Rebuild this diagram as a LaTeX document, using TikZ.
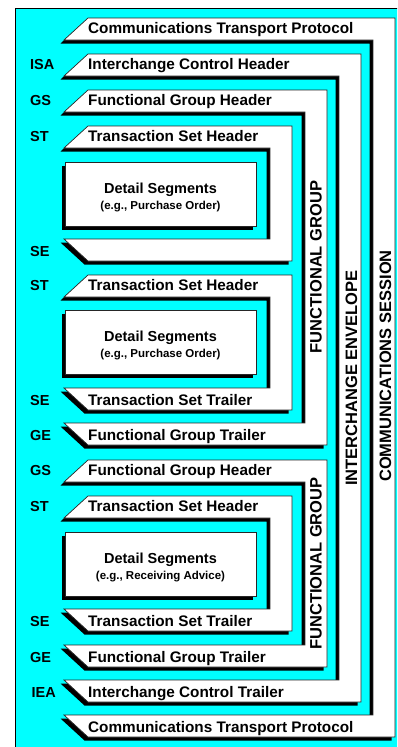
\documentclass[tikz,border=0pt]{standalone}
\usepackage{fontspec}
\setmainfont{Liberation Sans}[BoldFont={Liberation Sans Bold}]
\definecolor{envcyan}{RGB}{0,255,255}

\begin{document}
\begin{tikzpicture}[x=1pt, y=-1pt,
    envbox/.style={draw=black!85, line width=0.7pt, fill=white,
        preaction={fill=black, transform canvas={xshift=-3.5pt, yshift=-3.5pt}}},
    bartext/.style={anchor=base west, inner sep=0pt, font=\bfseries\fontsize{15.3}{18}\selectfont},
    segtag/.style={anchor=base west, inner sep=0pt, font=\bfseries\fontsize{14.5}{17}\selectfont},
    sidetext/.style={rotate=90, inner sep=0pt, font=\bfseries\fontsize{16.5}{19}\selectfont},
    segtext/.style={anchor=base, inner sep=0pt, font=\bfseries\fontsize{14.5}{17}\selectfont},
    exampletext/.style={anchor=base, inner sep=0pt, font=\bfseries\fontsize{11.5}{14}\selectfont}]

    % constants
    \def\slantl{64}
    \def\slantr{88}
    \def\barh{22}
    \def\segl{65}
    \def\segr{256}

    \useasboundingbox (0,0) rectangle (397,747);
    \clip (0,0) rectangle (397,747);
    \fill [white] (0,0) rectangle (397,747);
    \draw [line width=1pt, fill=envcyan] (15.5,8.5) rectangle (430,770);

    % envelopes: top / bottom / right edge
    \foreach \ty/\by/\rx in {18/737/395, 54/702/361, 90/445/327, 460/667/327, 126/261/292, 275/410/292, 496/631/292}
        \draw [envbox] (\slantr,\ty) -- (\rx,\ty) -- (\rx,\by) -- (\slantr,\by) -- (\slantl,\by-\barh)
            -- (\rx-\barh,\by-\barh) -- (\rx-\barh,\ty+\barh) -- (\slantl,\ty+\barh) -- cycle;

    % detail segment boxes
    \foreach \ty in {162, 310, 532}
        \draw [envbox] (\segl,\ty) rectangle (\segr,\ty+64);

    % headers
    \node [bartext] (ctph) at (\slantr,33.5) {Communications Transport Protocol};
    \node [bartext] (ich) at (\slantr,69) {Interchange Control Header};
    \node [bartext] (fgh1) at (\slantr,105) {Functional Group Header};
    \node [bartext] (tsh1) at (\slantr,141) {Transaction Set Header};
    \node [bartext] (tsh2) at (\slantr,290) {Transaction Set Header};
    \node [bartext] (fgh2) at (\slantr,475) {Functional Group Header};
    \node [bartext] (tsh3) at (\slantr,511) {Transaction Set Header};

    % trailers
    \node [bartext] (tst2) at (\slantr,405) {Transaction Set Trailer};
    \node [bartext] (fgt1) at (\slantr,440) {Functional Group Trailer};
    \node [bartext] (tst3) at (\slantr,626) {Transaction Set Trailer};
    \node [bartext] (fgt2) at (\slantr,662) {Functional Group Trailer};
    \node [bartext] (ict) at (\slantr,697) {Interchange Control Trailer};
    \node [bartext] (ctpt) at (\slantr,732) {Communications Transport Protocol};

    % segment ids on the left
    \node [segtag] (isa) at (30,69) {ISA};
    \node [segtag] (gs1) at (30,105) {GS};
    \node [segtag] (st1) at (30,141) {ST};
    \node [segtag] (se1) at (30,256) {SE};
    \node [segtag] (st2) at (30,290) {ST};
    \node [segtag] (se2) at (30,405) {SE};
    \node [segtag] (ge1) at (30,440) {GE};
    \node [segtag] (gs2) at (30,475) {GS};
    \node [segtag] (st3) at (30,511) {ST};
    \node [segtag] (se3) at (30,626) {SE};
    \node [segtag] (ge2) at (30,662) {GE};
    \node [segtag] (iea) at (31.5,697) {IEA};

    % detail segments
    \node [segtext] (seg1) at (160.5,193.5) {Detail Segments};
    \node [exampletext] (ex1) at (160.5,209) {(e.g., Purchase Order)};
    \node [segtext] (seg2) at (160.5,341.5) {Detail Segments};
    \node [exampletext] (ex2) at (160.5,357) {(e.g., Purchase Order)};
    \node [segtext] (seg3) at (160.5,563.5) {Detail Segments};
    \node [exampletext] (ex3) at (160.5,579) {(e.g., Receiving Advice)};

    % vertical titles
    \node [sidetext] (fg1) at (316,267) {FUNCTIONAL GROUP};
    \node [sidetext] (fg2) at (316,563.5) {FUNCTIONAL GROUP};
    \node [sidetext] (ie) at (351.5,378) {INTERCHANGE ENVELOPE};
    \node [sidetext] (cs) at (385.5,366) {COMMUNICATIONS SESSION};

\end{tikzpicture}
\end{document}
